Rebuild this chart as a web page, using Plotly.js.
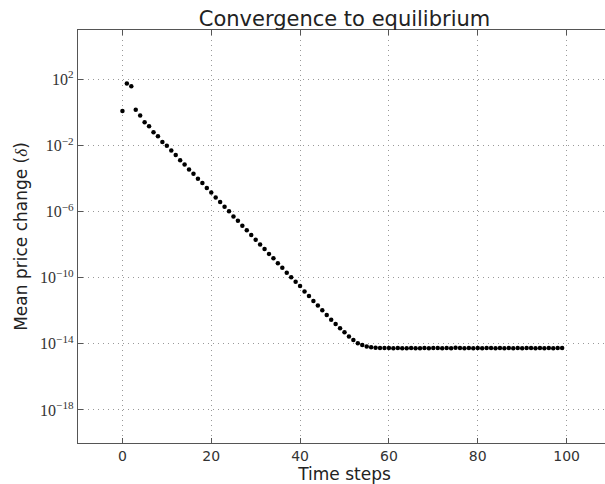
<!DOCTYPE html>
<html>
<head>
<meta charset="utf-8">
<script src="https://cdn.plot.ly/plotly-3.0.1.min.js"></script>
<style>
html, body { margin: 0; padding: 0; overflow: hidden; background: #fff; }
#chart { width: 620px; height: 484px; }
</style>
</head>
<body>
<div id="chart"></div>
<script>
// Time steps (x) and mean price change (y)
const timeSteps = [
  0,1,2,3,4,5,6,7,8,9,10,11,12,13,14,15,16,17,18,19,
  20,21,22,23,24,25,26,27,28,29,30,31,32,33,34,35,36,37,38,39,
  40,41,42,43,44,45,46,47,48,49,50,51,52,53,54,55,56,57,58,59,
  60,61,62,63,64,65,66,67,68,69,70,71,72,73,74,75,76,77,78,79,
  80,81,82,83,84,85,86,87,88,89,90,91,92,93,94,95,96,97,98,99
];
const meanPriceChange = [
  1.26, 57.5, 39, 1.51, 0.66, 0.257, 0.148, 0.065, 0.037, 0.0166,
  0.010, 0.0050, 0.00275, 0.00129, 7.1e-4, 3.6e-4, 2.0e-4, 1.0e-4, 5.4e-5, 2.7e-5,
  1.45e-5, 7.2e-6, 3.9e-6, 2.0e-6, 1.05e-6, 5.2e-7, 2.8e-7, 1.4e-7, 7.6e-8, 3.9e-8,
  2.0e-8, 1.05e-8, 5.5e-9, 2.8e-9, 1.5e-9, 7.6e-10, 4.0e-10, 2.0e-10, 1.07e-10, 5.8e-11,
  3.2e-11, 1.5e-11, 7.8e-12, 4.0e-12, 2.1e-12, 1.07e-12, 5.6e-13, 2.9e-13, 1.6e-13, 8.7e-14,
  5.1e-14, 2.75e-14, 1.74e-14, 1.1e-14, 8.7e-15, 6.9e-15, 6.2e-15, 5.9e-15, 5.7e-15, 5.6e-15,
  5.6e-15, 5.5e-15, 5.6e-15, 5.5e-15, 5.5e-15, 5.6e-15, 5.5e-15, 5.5e-15, 5.6e-15, 5.5e-15,
  5.6e-15, 5.6e-15, 5.5e-15, 5.6e-15, 5.5e-15, 5.8e-15, 5.6e-15, 5.5e-15, 5.6e-15, 5.5e-15,
  5.6e-15, 5.5e-15, 5.6e-15, 5.6e-15, 5.5e-15, 5.6e-15, 5.5e-15, 5.6e-15, 5.5e-15, 5.6e-15,
  5.5e-15, 5.6e-15, 5.6e-15, 5.5e-15, 5.6e-15, 5.5e-15, 5.6e-15, 5.5e-15, 5.6e-15, 5.6e-15
];
const xTickVals = [0, 20, 40, 60, 80, 100];
const yTickVals = [1e-18, 1e-14, 1e-10, 1e-6, 1e-2, 1e2];
const yTickText = ['10<sup>\u221218</sup>', '10<sup>\u221214</sup>', '10<sup>\u221210</sup>',
                   '10<sup>\u22126</sup>', '10<sup>\u22122</sup>', '10<sup>2</sup>'];

const trace = {
  x: timeSteps,
  y: meanPriceChange,
  type: 'scatter',
  mode: 'markers',
  marker: { color: '#000', size: 4.5 },
  cliponaxis: false,
  hoverinfo: 'x+y'
};

const axisCommon = {
  showline: true,
  linecolor: '#555',
  linewidth: 1.2,
  mirror: 'ticks',
  ticks: 'inside',
  ticklen: 5,
  tickcolor: '#555',
  tickwidth: 1,
  showgrid: true,
  gridcolor: '#999',
  griddash: '1px,4px',
  gridwidth: 1,
  zeroline: false
};

const layout = {
  width: 620,
  height: 484,
  margin: { l: 78.4, r: 9, t: 30, b: 40.7 },
  paper_bgcolor: '#fff',
  plot_bgcolor: '#fff',
  showlegend: false,
  font: { family: 'DejaVu Sans, sans-serif', color: '#333' },
  title: {
    text: 'Convergence to equilibrium',
    font: { size: 21, family: 'DejaVu Sans, sans-serif', color: '#222' },
    x: 0.5, xref: 'paper', xanchor: 'center',
    y: 1, yref: 'paper', yanchor: 'bottom', pad: { b: 4 }
  },
  xaxis: Object.assign({}, axisCommon, {
    range: [-10, 110],
    tickmode: 'array',
    tickvals: xTickVals,
    tickfont: { size: 14, family: 'DejaVu Sans, sans-serif', color: '#333' },
    title: { text: 'Time steps', font: { size: 17, color: '#222' }, standoff: 4 }
  }),
  yaxis: Object.assign({}, axisCommon, {
    type: 'log',
    range: [-20, 5],
    tickmode: 'array',
    tickvals: yTickVals,
    ticktext: yTickText,
    tickfont: { size: 16, family: 'Liberation Serif, serif', color: '#333' },
    title: {
      text: 'Mean price change (<span style="font-family:Liberation Serif, serif"><i>\u03b4</i></span>)',
      font: { size: 17, color: '#222' }, standoff: 8
    }
  })
};

Plotly.newPlot('chart', [trace], layout, { displayModeBar: false, staticPlot: true });
</script>
</body>
</html>
